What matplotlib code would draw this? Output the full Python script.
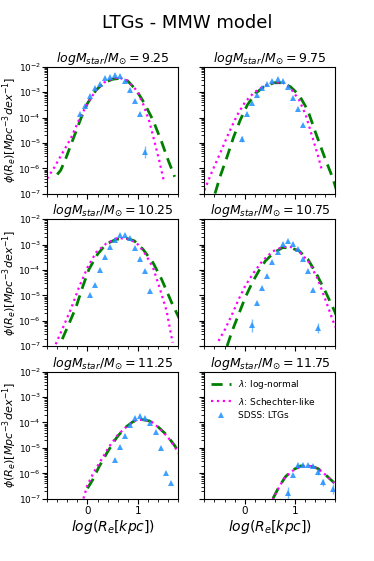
import numpy as np
import matplotlib
matplotlib.use("Agg")
import matplotlib.pyplot as plt
from matplotlib.ticker import LogLocator, MultipleLocator, NullFormatter

masses = ["9.25", "9.75", "10.25", "10.75", "11.25", "11.75"]

# SDSS LTGs points (log R_e, log phi, error in dex)
sdss_x = [
    [-0.15, -0.05, 0.05, 0.15, 0.25, 0.35, 0.45, 0.55, 0.65, 0.75, 0.85, 0.95, 1.05, 1.15],
    [-0.05, 0.05, 0.15, 0.25, 0.35, 0.45, 0.55, 0.65, 0.75, 0.85, 0.95, 1.05, 1.15],
    [0.05, 0.15, 0.25, 0.35, 0.45, 0.55, 0.65, 0.75, 0.85, 0.95, 1.05, 1.15, 1.25],
    [0.15, 0.25, 0.35, 0.45, 0.55, 0.65, 0.75, 0.85, 0.95, 1.05, 1.15, 1.25, 1.35, 1.45],
    [0.55, 0.65, 0.75, 0.85, 0.95, 1.05, 1.15, 1.25, 1.35, 1.45, 1.55, 1.65],
    [0.85, 0.95, 1.05, 1.15, 1.25, 1.35, 1.45, 1.55, 1.75],
]
sdss_y = [
    [-3.84, -3.55, -3.15, -2.85, -2.68, -2.46, -2.39, -2.33, -2.35, -2.58, -2.92, -3.34, -3.86, -5.35],
    [-4.85, -3.86, -3.44, -3.12, -2.85, -2.68, -2.55, -2.50, -2.55, -2.79, -3.22, -3.67, -4.30],
    [-4.99, -4.59, -3.99, -3.47, -3.09, -2.81, -2.63, -2.63, -2.75, -3.12, -3.55, -4.03, -4.82],
    [-6.17, -5.29, -4.69, -4.24, -3.70, -3.28, -2.98, -2.85, -2.96, -3.19, -3.55, -4.03, -4.79, -6.27],
    [-5.46, -4.98, -4.55, -4.09, -3.83, -3.73, -3.83, -4.02, -4.37, -5.02, -5.97, -6.39],
    [-6.78, -6.06, -5.69, -5.66, -5.66, -5.70, -5.96, -6.36, -6.62],
]
sdss_err = [
    [0, 0, 0, 0, 0, 0, 0, 0, 0, 0, 0, 0, 0, 0.25],
    [0.12, 0, 0, 0, 0, 0, 0, 0, 0, 0, 0, 0, 0],
    [0, 0, 0, 0, 0, 0, 0, 0, 0, 0, 0, 0, 0],
    [0.25, 0, 0, 0, 0, 0, 0, 0, 0, 0, 0, 0, 0, 0.2],
    [0, 0, 0, 0, 0, 0, 0, 0, 0, 0, 0, 0],
    [0.25, 0, 0, 0, 0, 0, 0.12, 0.15, 0.2],
]

# lambda: log-normal model
ln_x = [
    [-0.60, -0.53, -0.43, -0.33, -0.23, -0.13, 0.0, 0.17, 0.33, 0.50, 0.63, 0.80, 0.97, 1.13, 1.30, 1.47, 1.60, 1.73],
    [-0.59, -0.49, -0.35, -0.22, -0.09, 0.05, 0.21, 0.38, 0.58, 0.75, 0.91, 1.08, 1.25, 1.41, 1.58, 1.75, 1.83],
    [-0.50, -0.37, -0.23, -0.10, 0.03, 0.20, 0.37, 0.57, 0.77, 0.93, 1.10, 1.30, 1.47, 1.67, 1.83],
    [-0.35, -0.25, -0.12, 0.01, 0.15, 0.28, 0.41, 0.58, 0.75, 0.91, 1.08, 1.25, 1.41, 1.61, 1.78, 1.85],
    [0.0, 0.10, 0.23, 0.40, 0.57, 0.73, 0.90, 1.07, 1.23, 1.40, 1.57, 1.73, 1.83],
    [0.56, 0.68, 0.81, 0.95, 1.11, 1.28, 1.45, 1.61, 1.75, 1.83],
]
ln_y = [
    [-6.24, -6.07, -5.61, -5.08, -4.56, -4.03, -3.44, -2.92, -2.63, -2.49, -2.46, -2.56, -2.92, -3.44, -4.10, -4.95, -5.67, -6.33],
    [-6.99, -6.33, -5.54, -4.76, -4.10, -3.51, -3.05, -2.79, -2.63, -2.63, -2.79, -3.12, -3.71, -4.62, -5.54, -6.40, -6.92],
    [-6.72, -6.13, -5.48, -4.69, -3.97, -3.38, -2.98, -2.79, -2.75, -2.85, -3.18, -3.71, -4.36, -5.28, -5.94],
    [-6.99, -6.40, -5.74, -5.08, -4.49, -4.03, -3.64, -3.31, -3.12, -3.12, -3.25, -3.57, -4.10, -4.89, -5.61, -5.94],
    [-6.59, -6.27, -5.74, -5.15, -4.62, -4.23, -3.97, -3.88, -3.94, -4.17, -4.49, -4.91, -5.22],
    [-6.99, -6.53, -6.13, -5.87, -5.71, -5.70, -5.81, -6.07, -6.33, -6.50],
]

# lambda: Schechter-like model
sch_x = [
    [-0.80, -0.67, -0.50, -0.33, -0.17, 0.0, 0.17, 0.33, 0.50, 0.63, 0.80, 0.97, 1.10, 1.23, 1.33, 1.43, 1.51],
    [-0.80, -0.65, -0.49, -0.32, -0.15, 0.01, 0.18, 0.38, 0.58, 0.75, 0.91, 1.08, 1.21, 1.35, 1.45, 1.53],
    [-0.63, -0.50, -0.33, -0.17, 0.0, 0.17, 0.37, 0.57, 0.77, 0.97, 1.13, 1.30, 1.43, 1.57, 1.69],
    [-0.52, -0.39, -0.25, -0.12, 0.01, 0.18, 0.35, 0.55, 0.75, 0.91, 1.08, 1.28, 1.45, 1.61, 1.75, 1.85],
    [-0.08, 0.0, 0.13, 0.27, 0.43, 0.60, 0.77, 0.93, 1.10, 1.27, 1.43, 1.60, 1.73, 1.83],
    [0.55, 0.65, 0.78, 0.95, 1.11, 1.28, 1.45, 1.61, 1.75, 1.83],
]
sch_y = [
    [-6.40, -6.00, -5.41, -4.82, -4.10, -3.44, -2.92, -2.62, -2.46, -2.43, -2.55, -2.92, -3.44, -4.17, -4.95, -5.74, -6.46],
    [-6.86, -6.13, -5.41, -4.62, -3.90, -3.38, -3.02, -2.76, -2.62, -2.62, -2.85, -3.31, -3.90, -4.82, -5.48, -6.07],
    [-6.92, -6.33, -5.54, -4.69, -3.90, -3.31, -2.96, -2.76, -2.75, -2.92, -3.31, -3.90, -4.69, -5.61, -6.86],
    [-6.79, -6.33, -5.74, -5.15, -4.62, -4.10, -3.64, -3.27, -3.09, -3.09, -3.27, -3.71, -4.36, -5.22, -6.00, -6.46],
    [-6.99, -6.46, -5.94, -5.48, -4.95, -4.49, -4.17, -3.94, -3.88, -3.97, -4.23, -4.59, -4.95, -5.28],
    [-7.05, -6.66, -6.20, -5.90, -5.74, -5.71, -5.81, -6.07, -6.33, -6.50],
]

fig, axes = plt.subplots(3, 2, figsize=(3.74, 5.61), dpi=100)
plt.subplots_adjust(left=0.126, right=0.897, top=0.881, bottom=0.111, wspace=0.2, hspace=0.2)
fig.suptitle("LTGs - MMW model", fontsize=13, y=0.975)

for i, ax in enumerate(axes.flat):
    ax.plot(ln_x[i], 10**np.array(ln_y[i]), color="green", ls="--", lw=2,
            dashes=(4, 2.5), label=r"$\lambda$: log-normal")
    ax.plot(sch_x[i], 10**np.array(sch_y[i]), color="magenta", ls=":", lw=1.6,
            label=r"$\lambda$: Schechter-like")
    y = np.array(sdss_y[i])
    e = np.array(sdss_err[i])
    lo = 10**y - 10**(y - e)
    hi = 10**(y + e) - 10**y
    ax.errorbar(sdss_x[i], 10**y, yerr=[lo, hi], fmt="none", ecolor="dodgerblue",
                elinewidth=1, alpha=0.6)
    ax.plot(sdss_x[i], 10**y, "^", color="dodgerblue", ms=4, mew=0, alpha=0.85,
            label="SDSS: LTGs")
    ax.set_yscale("log")
    ax.set_ylim(1e-7, 1e-2)
    ax.set_xlim(-0.8, 1.8)
    ax.xaxis.set_major_locator(MultipleLocator(1))
    ax.xaxis.set_minor_locator(MultipleLocator(0.2))
    ax.yaxis.set_major_locator(LogLocator(base=10, numticks=10))
    ax.yaxis.set_minor_locator(LogLocator(base=10, subs=np.arange(2, 10) * 0.1, numticks=10))
    ax.yaxis.set_minor_formatter(NullFormatter())
    ax.tick_params(axis="y", labelsize=6.5, pad=1)
    ax.tick_params(axis="x", labelsize=7.5, pad=2)
    ax.tick_params(axis="y", labelleft=(i % 2 == 0))
    ax.tick_params(axis="x", labelbottom=(i >= 4))
    ax.set_title(r"$logM_{star}/M_{\odot} = " + masses[i] + "$", fontsize=9, pad=3)
    if i % 2 == 0:
        ax.set_ylabel(r"$\phi(R_e)[Mpc^{-3}dex^{-1}]$", fontsize=8)
        ax.yaxis.set_label_coords(-0.215, 0.5)
    if i >= 4:
        ax.set_xlabel(r"$log(R_e[kpc])$", fontsize=10, labelpad=1)

axes[2, 1].legend(loc="upper left", fontsize=6.5, frameon=False, handlelength=2.2,
                  borderaxespad=0.3, labelspacing=0.5)

plt.savefig("out.png", dpi=100)
